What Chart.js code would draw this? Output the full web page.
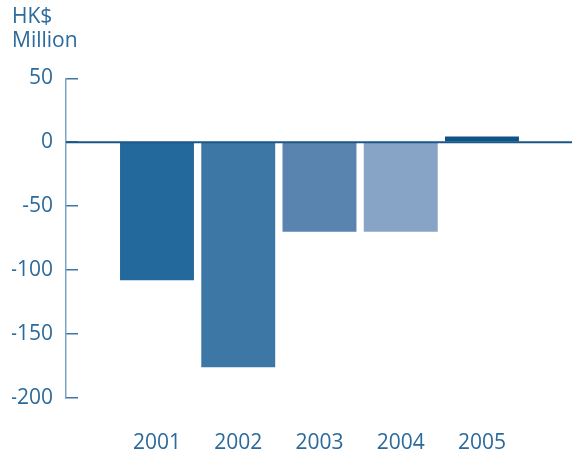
<!DOCTYPE html>
<html>
<head>
<meta charset="utf-8">
<script src="https://cdn.jsdelivr.net/npm/chart.js@4.4.1/dist/chart.umd.min.js"></script>
<style>
  html, body { margin: 0; padding: 0; background: #fff; }
  #wrap { width: 572px; height: 455px; }
</style>
</head>
<body>
<div id="wrap"><canvas id="chart"></canvas></div>
<script>
// Data
const years = ["2001", "2002", "2003", "2004", "2005"];
const values = [-108, -176, -70, -70, 4.5];
const barColors = ["#23699b", "#3d77a5", "#5884af", "#87a3c6", "#0e5385"];
const unitLabel = ["HK$", "Million"];

const textColor = "#2b6a9b";

// zero line drawn through the y scale
const zeroLine = {
    id: "zeroLine",
    afterDatasetsDraw(chart) {
        const y = chart.scales.y.getPixelForValue(0);
        const ctx = chart.ctx;
        ctx.save();
        ctx.strokeStyle = "#1b5686";
        ctx.lineWidth = 2;
        ctx.beginPath();
        ctx.moveTo(chart.chartArea.left, y);
        ctx.lineTo(chart.width, y);
        ctx.stroke();
        ctx.restore();
    }
};

const ctx = document.getElementById("chart").getContext("2d");
new Chart(ctx, {
    type: "bar",
    data: {
        datasets: [{
            data: years.map((yr, i) => ({ x: i + 1, y: values[i] })),
            backgroundColor: barColors,
            barPercentage: 0.91,
            categoryPercentage: 1
        }]
    },
    options: {
        responsive: true,
        maintainAspectRatio: false,
        animation: false,
        layout: { padding: { left: 12, right: 0, top: 1, bottom: 0 } },
        plugins: {
            legend: { display: false },
            tooltip: { enabled: false },
            title: {
                display: true,
                text: unitLabel,
                align: "start",
                color: textColor,
                font: { family: "Open Sans", size: 21, weight: "normal", lineHeight: 1.15 },
                padding: { top: 4, bottom: 25 }
            }
        },
        scales: {
            x: {
                type: "linear",
                offset: false,
                min: -0.12,
                max: 6.108,
                grid: { display: false, offset: false },
                border: { display: false },
                afterBuildTicks: scale => {
                    scale.ticks = years.map((yr, i) => ({ value: i + 1 }));
                },
                afterFit: scale => { scale.height = 57; },
                ticks: {
                    padding: 24,
                    color: textColor,
                    font: { family: "Open Sans", size: 21 },
                    callback: v => years[v - 1]
                }
            },
            y: {
                min: -200,
                max: 50,
                afterFit: scale => { scale.width = 54; },
                grid: {
                    drawOnChartArea: false,
                    tickLength: -12,
                    color: "#3f75a2",
                    lineWidth: 1.5
                },
                border: { color: "#7ea2c2", width: 1.5 },
                ticks: {
                    stepSize: 50,
                    padding: 25,
                    color: textColor,
                    font: { family: "Open Sans", size: 21 }
                }
            }
        }
    },
    plugins: [zeroLine]
});
</script>
</body>
</html>
